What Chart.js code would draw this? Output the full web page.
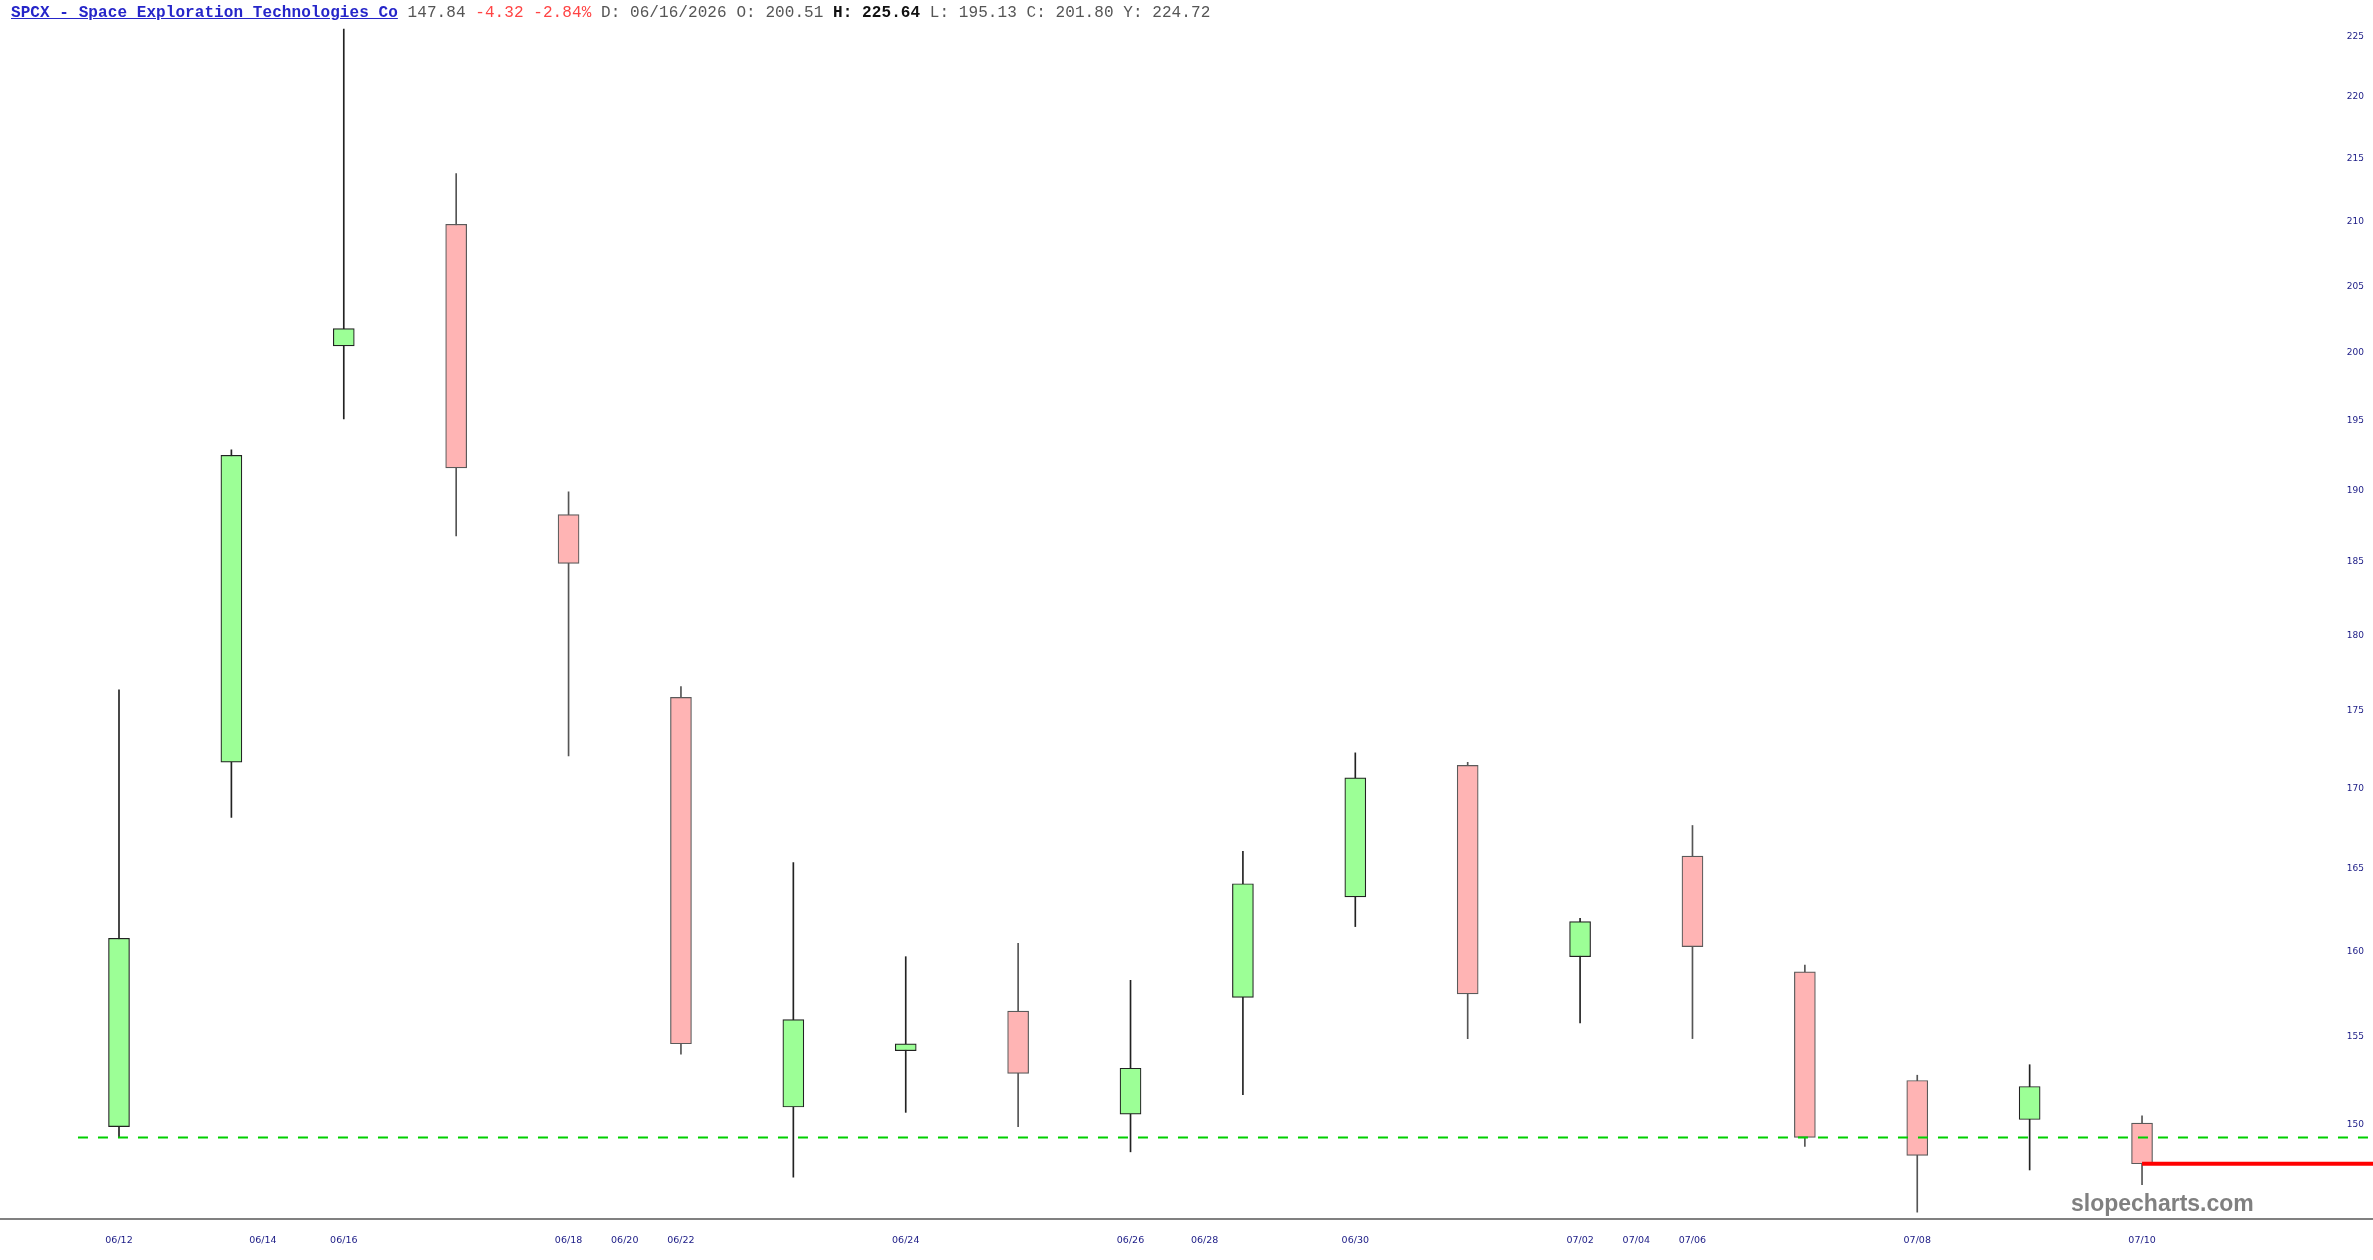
<!DOCTYPE html>
<html lang="en">
<head>
    <meta charset="UTF-8">
    <title>SPCX - Space Exploration Technologies Co</title>
    <script src="https://cdn.jsdelivr.net/npm/chart.js"></script>
    <style>
        body {
            margin: 0;
            background: #ffffff;
        }
        .wrap {
            position: relative;
            width: 2373px;
            height: 1260px;
        }
        #header {
            position: absolute;
            left: 11px;
            top: 4px;
            font-family: "Liberation Mono", "DejaVu Sans Mono", monospace;
            font-size: 16px;
            letter-spacing: 0.07px;
            line-height: 18px;
            white-space: pre;
            color: #555555;
        }
        #header .sym {
            color: #2626c9;
            font-weight: bold;
            text-decoration: underline;
        }
        #header .dn { color: #ff4444; }
        #header b { color: #111111; }
        #watermark {
            position: absolute;
            left: 2071px;
            top: 1190px;
            font-family: "Liberation Sans", Arial, sans-serif;
            font-weight: bold;
            font-size: 23px;
            color: #808080;
        }
    </style>
</head>
<body>

<div class="wrap">
    <canvas id="priceChart"></canvas>
    <div id="header"><span class="sym">SPCX - Space Exploration Technologies Co</span> 147.84 <span class="dn">-4.32 -2.84%</span> D: 06/16/2026 O: 200.51 <b>H: 225.64</b> L: 195.13 C: 201.80 Y: 224.72</div>
    <div id="watermark">slopecharts.com</div>
</div>

<script>
    // Daily candles (trading days only)
    const dates  = ['06/12', '06/15', '06/16', '06/17', '06/18', '06/22', '06/23', '06/24', '06/25', '06/26',
                    '06/29', '06/30', '07/01', '07/02', '07/06', '07/07', '07/08', '07/09', '07/10'];
    const opens  = [149.9, 171.7, 200.51, 209.8, 188.3, 175.9, 151.0, 154.2, 156.5, 150.6,
                    157.3, 163.3, 171.5, 159.7, 165.8, 158.8, 152.5, 150.3, 150.1];
    const highs  = [176.4, 192.9, 225.64, 213.8, 189.9, 176.6, 165.4, 159.7, 160.5, 158.3,
                    166.1, 172.3, 171.7, 162.0, 167.7, 159.2, 152.8, 153.4, 150.5];
    const lows   = [149.3, 168.2, 195.13, 186.8, 172.1, 154.0, 147.1, 150.7, 149.9, 148.5,
                    151.7, 161.5, 154.9, 155.8, 154.9, 148.8, 145.2, 147.5, 146.7];
    const closes = [160.8, 192.5, 201.80, 191.6, 184.9, 154.6, 156.0, 154.6, 152.9, 153.2,
                    164.1, 170.7, 157.5, 161.8, 160.3, 149.3, 148.3, 152.16, 147.84];

    // Date axis labels (position in trading-day index units)
    const xTickPos  = [0, 1.28, 2, 4, 4.5, 5, 7, 9, 9.66, 11, 13, 13.5, 14, 16, 18];
    const xTickText = ['06/12', '06/14', '06/16', '06/18', '06/20', '06/22', '06/24', '06/26',
                       '06/28', '06/30', '07/02', '07/04', '07/06', '07/08', '07/10'];

    // Price axis labels
    const yTicks = [150, 155, 160, 165, 170, 175, 180, 185, 190, 195, 200, 205, 210, 215, 220, 225];

    // Horizontal levels
    const levelStart = -0.365;
    const levelPrice = 149.3;
    const lastPrice  = 147.84;

    const isUp = dates.map((d, i) => closes[i] >= opens[i]);

    const wickData = dates.map((d, i) => ({ x: i, y: [lows[i], highs[i]] }));
    const bodyData = dates.map((d, i) => ({ x: i, y: [opens[i], closes[i]] }));

    const ctx = document.getElementById('priceChart').getContext('2d');
    new Chart(ctx, {
        type: 'bar',
        data: {
            datasets: [
                {
                    type: 'line',
                    data: [{ x: dates.length - 1, y: lastPrice }, { x: 21, y: lastPrice }],
                    borderColor: '#ff0000',
                    borderWidth: 4,
                    pointRadius: 0,
                    order: 0
                },
                {
                    type: 'line',
                    data: [{ x: levelStart, y: levelPrice }, { x: 21, y: levelPrice }],
                    borderColor: '#00d000',
                    borderWidth: 2,
                    borderDash: [10, 10],
                    pointRadius: 0,
                    order: 1
                },
                {
                    data: bodyData,
                    backgroundColor: isUp.map(u => u ? '#9cff96' : '#ffb4b4'),
                    borderColor: isUp.map(u => u ? '#222222' : '#5a5a5a'),
                    borderWidth: 1.2,
                    borderSkipped: false,
                    barThickness: 21,
                    grouped: false,
                    order: 2
                },
                {
                    data: wickData,
                    backgroundColor: isUp.map(u => u ? '#222222' : '#555555'),
                    borderWidth: 0,
                    barThickness: 1,
                    grouped: false,
                    order: 3
                }
            ]
        },
        options: {
            responsive: true,
            maintainAspectRatio: false,
            animation: false,
            layout: { padding: 0 },
            plugins: {
                legend: { display: false },
                tooltip: { enabled: false }
            },
            scales: {
                x: {
                    type: 'linear',
                    min: -1.0588,
                    max: 20.055,
                    offset: false,
                    grid: { display: false, drawTicks: false },
                    border: { display: true, color: '#808080', width: 2 },
                    afterBuildTicks: axis => {
                        axis.ticks = xTickPos.map(v => ({ value: v }));
                    },
                    afterFit: axis => { axis.height = 41; },
                    ticks: {
                        autoSkip: false,
                        maxRotation: 0,
                        padding: 16,
                        color: '#1a1a85',
                        font: { family: 'DejaVu Sans', size: 9.5 },
                        callback: (v, i) => xTickText[i]
                    }
                },
                y: {
                    type: 'logarithmic',
                    position: 'right',
                    min: 144.83,
                    max: 228.09,
                    grid: { display: false, drawTicks: false },
                    border: { display: false },
                    afterBuildTicks: axis => {
                        axis.ticks = yTicks.map(v => ({ value: v }));
                    },
                    ticks: {
                        mirror: true,
                        padding: -9,
                        color: '#1a1a85',
                        font: { family: 'DejaVu Sans', size: 9 },
                        callback: v => String(v)
                    }
                }
            }
        }
    });
</script>

</body>
</html>
